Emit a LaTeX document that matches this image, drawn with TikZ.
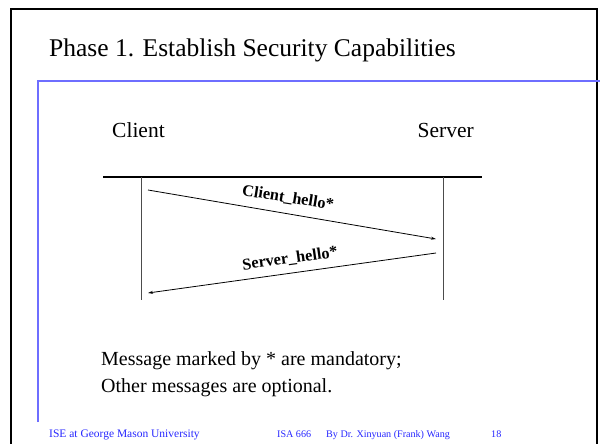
\documentclass[tikz,border=0pt]{standalone}
\usepackage{fontspec}
\setmainfont{Liberation Serif}
\definecolor{footblue}{RGB}{40,40,255}
\definecolor{ruleblue}{RGB}{110,110,255}
\tikzset{
  frame/.style={draw=black,line width=2pt},
  bluerule/.style={draw=ruleblue,line width=1.5pt},
  lifeline/.style={draw=black!70,line width=0.8pt},
  msg/.style={draw=black,line width=0.8pt,-{Stealth[length=5pt,width=3pt]}},
  msglabel/.style={font=\fontsize{16.3}{16.3}\selectfont\bfseries,inner sep=0pt},
  actor/.style={font=\fontsize{21.5}{21.5}\selectfont,inner sep=0pt,anchor=base},
  note/.style={font=\fontsize{20}{20}\selectfont,inner sep=0pt,anchor=base west},
  footer/.style={font=\fontsize{11.5}{11.5}\selectfont,text=footblue,inner sep=0pt,anchor=base west},
  footers/.style={footer,font=\fontsize{10.1}{10.1}\selectfont}
}
\usetikzlibrary{arrows.meta}
\begin{document}
\begin{tikzpicture}[x=1pt,y=-1pt]
\useasboundingbox (0,0) rectangle (600,444);
\fill[white] (0,0) rectangle (600,444);
% outer frame
\draw[frame] (11,460) -- (11,9) -- (597,9) -- (597,460);
% blue rules
\draw[bluerule] (38,422) -- (38,81) -- (600,81);
% title
\node[font=\fontsize{25.5}{25.5}\selectfont,inner sep=0pt,anchor=base west] (title) at (49,57) {Phase 1. Establish Security Capabilities};
% actors
\node[actor,anchor=base west] (client) at (112,137) {Client};
\node[actor,anchor=base east] (server) at (474,137) {Server};
% top bar
\coordinate (barL) at (103,177);
\coordinate (barR) at (482,177);
\draw[line width=2pt] (barL) -- (barR);
% lifelines
\coordinate (cTop) at (141,177);
\coordinate (cBot) at (141,300);
\coordinate (sTop) at (443,177);
\coordinate (sBot) at (443,300);
\draw[lifeline] (cTop) -- (cBot);
\draw[lifeline] (sTop) -- (sBot);
% messages
\coordinate (m1s) at (148,190);
\coordinate (m1e) at (436,239);
\coordinate (m2s) at (436,253);
\coordinate (m2e) at (148,293);
\draw[msg] (m1s) -- (m1e);
\draw[msg] (m2s) -- (m2e);
\node[msglabel,rotate=-9] (l1) at (288,198) {Client\_hello*};
\node[msglabel,rotate=8] (l2) at (290,259) {Server\_hello*};
% note
\node[note] (note1) at (101,365) {Message marked by * are mandatory;};
\node[note] (note2) at (101,392) {Other messages are optional.};
% footer
\node[footer] (f1) at (49,437) {ISE at George Mason University};
\node[footers] (f2) at (277,437) {ISA 666};
\node[footers] (f3) at (326,437) {By Dr. Xinyuan (Frank) Wang};
\node[footers] (f4) at (491,437) {18};
\end{tikzpicture}
\end{document}
